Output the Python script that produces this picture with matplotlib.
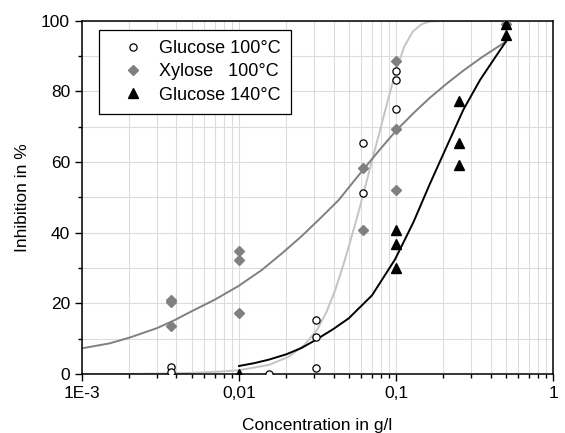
import numpy as np
import matplotlib.pyplot as plt
from matplotlib.ticker import LogLocator, NullFormatter, MultipleLocator

plt.rcParams['font.family'] = ['Liberation Sans', 'DejaVu Sans']

# --- Messwerte ---
glc100_x = [0.0037, 0.0037, 0.0155, 0.031, 0.031, 0.031, 0.062, 0.062, 0.1, 0.1, 0.1, 0.5]
glc100_y = [2.0, 0.6, 0.0, 15.3, 10.6, 1.8, 65.3, 51.2, 85.8, 83.3, 75.1, 99.0]

xyl100_x = [0.0037, 0.0037, 0.0037, 0.01, 0.01, 0.01, 0.062, 0.062, 0.1, 0.1, 0.1, 0.5]
xyl100_y = [21.0, 20.5, 13.5, 34.8, 32.3, 17.3, 58.3, 40.7, 88.5, 69.5, 52.0, 99.0]

glc140_x = [0.01, 0.1, 0.1, 0.1, 0.25, 0.25, 0.25, 0.5, 0.5]
glc140_y = [0.0, 40.7, 36.8, 29.9, 77.3, 65.5, 59.1, 99.0, 96.0]

# --- Fitkurven ---
fit_glc100_x = [0.001, 0.002, 0.003, 0.005, 0.0075, 0.01, 0.0155, 0.0207, 0.026, 0.0314,
                0.036, 0.041, 0.0455, 0.05, 0.056, 0.0621, 0.07, 0.079, 0.0893, 0.1,
                0.113, 0.128, 0.145, 0.164, 0.2, 0.5]
fit_glc100_y = [0.0, 0.05, 0.15, 0.35, 0.7, 1.1, 2.6, 4.9, 8.2, 12.5,
                17.5, 23.8, 30.0, 36.1, 43.8, 51.2, 60.2, 69.0, 78.0, 86.0,
                92.8, 97.0, 99.0, 99.8, 100.0, 100.0]

fit_xyl100_x = [0.001, 0.0015, 0.002, 0.003, 0.0039, 0.005, 0.0071, 0.0099, 0.014, 0.0188,
                0.025, 0.0338, 0.0432, 0.0578, 0.079, 0.1, 0.13, 0.164, 0.21, 0.268,
                0.35, 0.5]
fit_xyl100_y = [7.3, 8.7, 10.3, 13.0, 15.3, 17.8, 21.2, 24.9, 29.5, 34.2,
                39.0, 44.6, 49.3, 56.3, 63.6, 68.9, 74.0, 78.2, 82.2, 85.9,
                89.6, 94.1]

fit_glc140_x = [0.01, 0.0125, 0.0155, 0.02, 0.025, 0.0306, 0.04, 0.05, 0.0703, 0.0986,
                0.129, 0.164, 0.21, 0.268, 0.343, 0.418, 0.5]
fit_glc140_y = [2.3, 3.1, 4.1, 5.6, 7.4, 9.6, 12.8, 15.8, 22.3, 32.5,
                43.0, 53.8, 64.4, 74.8, 83.3, 89.0, 94.1]

xtick_pos = [0.001, 0.01, 0.1, 1]
xtick_lab = ['1E-3', '0,01', '0,1', '1']

# --- Abbildung ---
fig = plt.figure(figsize=(5.65, 4.33), dpi=100)
ax = fig.add_axes([0.145, 0.136, 0.834, 0.816])

ax.plot(fit_glc100_x, fit_glc100_y, color='#c4c4c4', lw=1.4, zorder=2)
ax.plot(fit_xyl100_x, fit_xyl100_y, color='#808080', lw=1.4, zorder=2)
ax.plot(fit_glc140_x, fit_glc140_y, color='black', lw=1.4, zorder=2)

ax.plot(glc100_x, glc100_y, 'o', ms=5.2, mfc='white', mec='black', mew=0.9,
        ls='none', label='Glucose 100°C', zorder=3)
ax.plot(xyl100_x, xyl100_y, 'D', ms=5.0, mfc='#808080', mec='#808080',
        ls='none', label='Xylose   100°C', zorder=3)
ax.plot(glc140_x, glc140_y, '^', ms=6.5, mfc='black', mec='black',
        ls='none', label='Glucose 140°C', zorder=4)

ax.set_xscale('log')
ax.set_xlim(0.001, 1)
ax.set_ylim(0, 100)
ax.set_xticks(xtick_pos)
ax.set_xticklabels(xtick_lab)
ax.xaxis.set_minor_locator(LogLocator(base=10, subs=np.arange(2, 10)))
ax.xaxis.set_minor_formatter(NullFormatter())
ax.yaxis.set_major_locator(MultipleLocator(20))
ax.yaxis.set_minor_locator(MultipleLocator(10))

ax.tick_params(which='major', direction='out', length=5, width=1, labelsize=12.5)
ax.tick_params(which='minor', direction='out', length=3, width=1)
ax.grid(True, which='both', color='#dcdcdc', lw=0.8)
ax.set_axisbelow(True)
for s in ax.spines.values():
    s.set_linewidth(1.1)

ax.set_xlabel('Concentration in g/l', fontsize=12.5, labelpad=12)
ax.set_ylabel('Inhibition in %', fontsize=12.5, labelpad=8)

leg = ax.legend(loc='upper left', bbox_to_anchor=(0.036, 0.9745), borderaxespad=0,
                fontsize=13, frameon=True, fancybox=False, edgecolor='black',
                framealpha=1, handletextpad=0.14, borderpad=0.58, labelspacing=0.34,
                handlelength=2.6)
leg.get_frame().set_linewidth(0.9)

fig.savefig('out.png', dpi=100)
